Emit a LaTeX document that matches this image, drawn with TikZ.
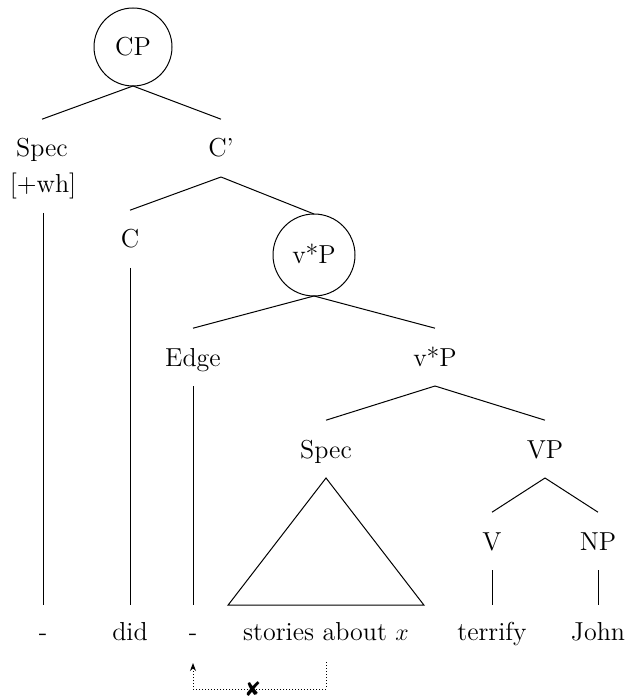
\documentclass[tikz,border=0pt]{standalone}
\usepackage{fontspec}
\usepackage{tikz}
\usetikzlibrary{calc,arrows.meta}
\newfontfamily\symbolfont{DejaVu Sans}

\begin{document}
\begin{tikzpicture}[x=0.5pt, y=-0.5pt, line width=0.5pt,
    font=\fontsize{13}{16}\selectfont,
    cat/.style={inner sep=0pt, outer sep=10pt, text height=8.9pt, text depth=0pt, anchor=base},
    leaf/.style={cat, outer sep=8.5pt},
    phase/.style={circle, draw, inner sep=0pt, outer sep=0pt, text height=8.9pt, text depth=0pt}]
    \useasboundingbox (0,0) rectangle (626,699);

    \node[phase, minimum size=39pt] (cp) at (133,47) {CP};
    \node[cat] (spec) at (42,157) {Spec};
    \node[cat] (wh) at (43,193) {[+wh]};
    \node[cat] (cbar) at (221,157) {C'};
    \node[cat] (c) at (130,248) {C};
    \node[phase, minimum size=41pt] (vpc) at (314,255) {v*P};
    \node[cat] (edge) at (193,366) {Edge};
    \node[cat] (vpbar) at (435,366) {v*P};
    \node[cat] (specb) at (326,458) {Spec};
    \node[cat] (vp) at (545,458) {VP};
    \node[cat] (v) at (492,550) {V};
    \node[cat] (np) at (598,550) {NP};

    \node[leaf] (gapa) at (43,640) {-};
    \node[leaf] (did) at (130,640) {did};
    \node[leaf] (gapb) at (193,640) {-};
    \node[leaf] (stories) at (326,640) {stories about $x$};
    \node[leaf] (terrify) at (492,640) {terrify};
    \node[leaf] (john) at (598,640) {John};

    \draw (cp.south) -- (spec.north);
    \draw (cp.south) -- (cbar.north);
    \draw (cbar.south) -- (c.north);
    \draw (cbar.south) -- (vpc.north);
    \draw (wh.south) -- (gapa.north);
    \draw (c.south) -- (did.north);
    \draw (vpc.south) -- (edge.north);
    \draw (vpc.south) -- (vpbar.north);
    \draw (edge.south) -- (gapb.north);
    \draw (vpbar.south) -- (specb.north);
    \draw (vpbar.south) -- (vp.north);
    \draw (specb.south) -- ($(stories.north)+(-98,0)$) -- ($(stories.north)+(98,0)$) -- cycle;
    \draw (vp.south) -- (v.north);
    \draw (vp.south) -- (np.north);
    \draw (v.south) -- (terrify.north);
    \draw (np.south) -- (john.north);

    % blocked movement
    \draw[densely dotted, -{Stealth[length=4pt,width=3pt]}] ([yshift=-2.5pt]stories.south) -- ++(0,27) coordinate (turn)
        -- (turn -| gapb) node[pos=0.55, inner sep=0pt, font=\symbolfont\fontsize{10}{10}\selectfont] (ban) {✘}
        -- ([yshift=-3pt]gapb.south);
\end{tikzpicture}
\end{document}
